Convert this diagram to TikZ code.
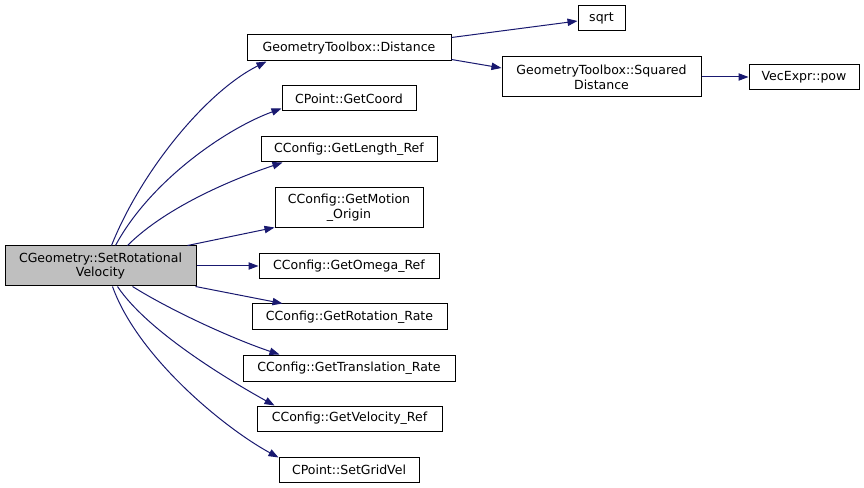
\documentclass[tikz,border=0pt]{standalone}
\usepackage{fontspec}
\setmainfont{DejaVu Sans}
\usetikzlibrary{arrows.meta,calc}
\definecolor{edgec}{HTML}{191970}
\definecolor{mainfill}{HTML}{BFBFBF}
\begin{document}
\begin{tikzpicture}[x=0.75pt,y=-0.75pt,
  box/.style={draw=black,line width=0.75pt,fill=white,rectangle,inner sep=0pt,align=center,
    font=\fontsize{9.4pt}{11pt}\selectfont},
  edge/.style={draw=edgec,line width=0.75pt,-{Triangle[length=7.5pt,width=5.5pt]}}]
\useasboundingbox[fill=white] (0,0) rectangle (864,488);
\node[box,fill=mainfill,minimum width=0.75pt*191,minimum height=0.75pt*40] (main) at (100.5,266) {CGeometry::SetRotational\\Velocity};
\node[box,minimum width=0.75pt*204,minimum height=0.75pt*26] (dist) at (349,48) {GeometryToolbox::Distance};
\node[box,minimum width=0.75pt*134,minimum height=0.75pt*25] (coord) at (349,98.5) {CPoint::GetCoord};
\node[box,minimum width=0.75pt*47,minimum height=0.75pt*25] (sqrt) at (601.5,18.5) {sqrt};
\node[box,minimum width=0.75pt*199,minimum height=0.75pt*40] (sq) at (601.5,77) {GeometryToolbox::Squared\\Distance};
\node[box,minimum width=0.75pt*110,minimum height=0.75pt*25] (pow) at (804,77) {VecExpr::pow};
\node[box,minimum width=0.75pt*176,minimum height=0.75pt*25] (len) at (349,149.5) {CConfig::GetLength\_Ref};
\node[box,minimum width=0.75pt*148,minimum height=0.75pt*40] (mot) at (349,208) {CConfig::GetMotion\\\_Origin};
\node[box,minimum width=0.75pt*180,minimum height=0.75pt*25] (omega) at (349,266) {CConfig::GetOmega\_Ref};
\node[box,minimum width=0.75pt*195,minimum height=0.75pt*26] (rot) at (349.5,317) {CConfig::GetRotation\_Rate};
\node[box,minimum width=0.75pt*212,minimum height=0.75pt*26] (trans) at (349,368) {CConfig::GetTranslation\_Rate};
\node[box,minimum width=0.75pt*185,minimum height=0.75pt*25] (vel) at (349.5,418.5) {CConfig::GetVelocity\_Ref};
\node[box,minimum width=0.75pt*140,minimum height=0.75pt*25] (grid) at (349,469.5) {CPoint::SetGridVel};
% edges
\draw[edge] ($(main.north west)+(107,0)$) .. controls +(30,-75) and +(-60,30) .. ($(dist.south west)+(20,0)$);
\draw[edge] ($(main.north west)+(111,0)$) .. controls +(35,-65) and +(-55,20) .. ($(coord.south west)+(0,-3)$);
\draw[edge] ($(main.north west)+(123,0)$) .. controls +(40,-40) and +(-45,15) .. ($(len.south west)+(22,0)$);
\draw[edge] ($(main.north west)+(183,0)$) -- ($(mot.south west)+(0,-1)$);
\draw[edge] (main.east) -- (omega.west);
\draw[edge] ($(main.south east)+(-1,0)$) -- ($(rot.north west)+(31,0)$);
\draw[edge] ($(main.south west)+(128,0)$) .. controls +(40,25) and +(-45,-15) .. ($(trans.north west)+(37,0)$);
\draw[edge] ($(main.south west)+(113,0)$) .. controls +(30,45) and +(-45,-25) .. ($(vel.north west)+(18,0)$);
\draw[edge] ($(main.south west)+(108,0)$) .. controls +(25,70) and +(-55,-30) .. ($(grid.north west)+(0,1)$);
\draw[edge] ($(dist.north east)+(0,3)$) -- ($(sqrt.west)+(0,2.5)$);
\draw[edge] ($(dist.south east)+(0,-2)$) -- ($(sq.west)+(0,-9)$);
\draw[edge] (sq.east) -- (pow.west);
\end{tikzpicture}
\end{document}
